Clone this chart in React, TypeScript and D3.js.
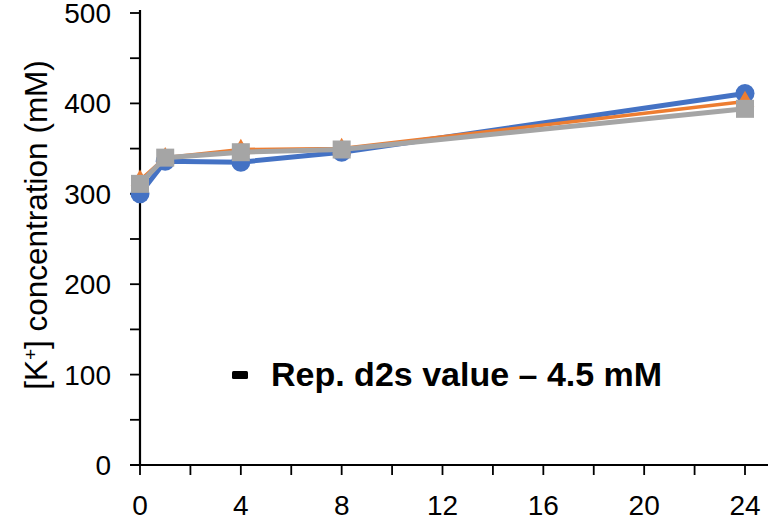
import React from "react";
import * as d3 from "d3";

const hours = [0, 1, 4, 8, 24];
const blueValues = [300, 336, 335, 346, 411];
const orangeValues = [315, 340, 349, 350, 402];
const grayValues = [311, 340, 346, 349, 394];
const xTicks = [0, 4, 8, 12, 16, 20, 24];
const xMinorTicks = [2, 6, 10, 14, 18, 22];
const yTicks = [0, 100, 200, 300, 400, 500];
const yMinorTicks = [50, 150, 250, 350, 450];
const annotation = "Rep. d2s value \u2013 4.5 mM";

const W = 768;
const H = 527;

export default function App() {
  const x = d3.scaleLinear().domain([0, 24]).range([140, 745]);
  const y = d3.scaleLinear().domain([0, 500]).range([465, 13]);
  const line = d3
    .line<number>()
    .x((_, i) => x(hours[i]))
    .y((v) => y(v));
  const font = "'Liberation Sans', Arial, sans-serif";
  const tri = d3.symbol().type(d3.symbolTriangle).size(150)();

  return (
    <svg
      width={W}
      height={H}
      style={{ position: "absolute", left: 0, top: 0, background: "#fff" }}
      fontFamily={font}
    >
      {/* axes */}
      <line x1={x(0)} x2={x(0)} y1={y(500) - 3} y2={y(0)} stroke="#000" strokeWidth={2.2} />
      <line x1={x(0) - 10} x2={W} y1={y(0)} y2={y(0)} stroke="#000" strokeWidth={2.2} />
      {yTicks.concat(yMinorTicks).map((t) => (
        <line key={"yt" + t} x1={x(0) - 10} x2={x(0)} y1={y(t)} y2={y(t)} stroke="#000" strokeWidth={1.8} />
      ))}
      {xTicks.concat(xMinorTicks).map((t) => (
        <line key={"xt" + t} x1={x(t)} x2={x(t)} y1={y(0)} y2={y(0) + 10} stroke="#000" strokeWidth={1.8} />
      ))}
      {yTicks.map((t) => (
        <text key={"yl" + t} x={111} y={y(t)} dy="0.36em" textAnchor="end" fontSize={28} fill="#000">
          {t}
        </text>
      ))}
      {xTicks.map((t) => (
        <text key={"xl" + t} x={x(t)} y={515} textAnchor="middle" fontSize={28} fill="#000">
          {t}
        </text>
      ))}
      <text
        transform={`translate(47, ${y(250) - 14}) rotate(-90)`}
        textAnchor="middle"
        fontSize={31.5}
        fill="#000"
      >
        [K<tspan baselineShift="super" fontSize={19}>+</tspan>] concentration (mM)
      </text>

      {/* blue series */}
      <path d={line(blueValues) || ""} fill="none" stroke="#4472C4" strokeWidth={5} />
      {blueValues.map((v, i) => (
        <circle key={"b" + i} cx={x(hours[i])} cy={y(v)} r={9.5} fill="#4472C4" />
      ))}
      {/* orange series */}
      <path d={line(orangeValues) || ""} fill="none" stroke="#ED7D31" strokeWidth={3.5} />
      {orangeValues.map((v, i) => (
        <path key={"o" + i} d={tri || ""} transform={`translate(${x(hours[i])},${y(v)})`} fill="#ED7D31" />
      ))}
      {/* gray series */}
      <path d={line(grayValues) || ""} fill="none" stroke="#A5A5A5" strokeWidth={5} />
      {grayValues.map((v, i) => (
        <rect key={"g" + i} x={x(hours[i]) - 9} y={y(v) - 9} width={18} height={18} fill="#A5A5A5" />
      ))}

      {/* annotation */}
      <rect x={232} y={371} width={16} height={8} rx={1.5} fill="#000" />
      <text x={271} y={386} fontSize={34} fontWeight="bold" fill="#000">
        {annotation}
      </text>
    </svg>
  );
}
